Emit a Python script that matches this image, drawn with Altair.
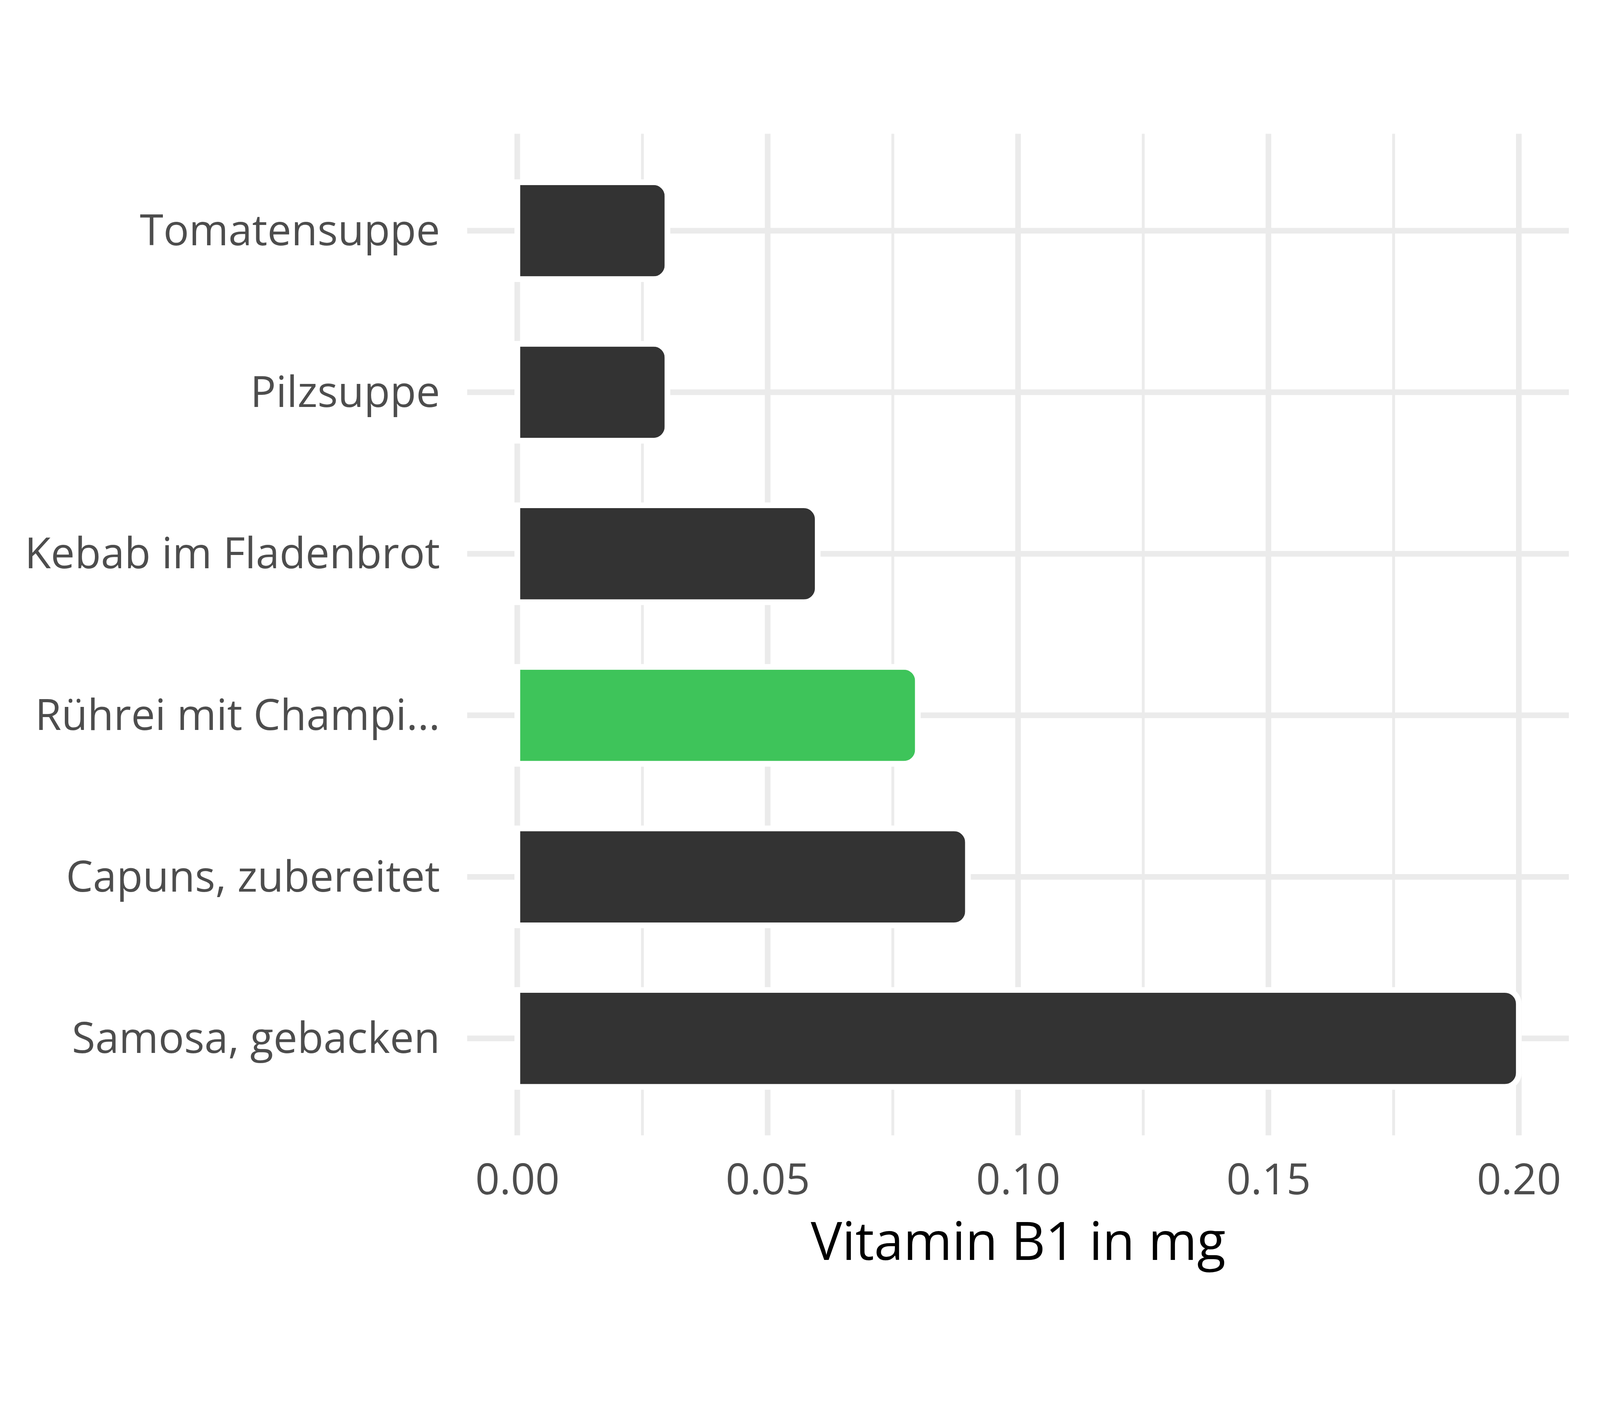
import altair as alt
import pandas as pd

foods = [
    "Tomatensuppe",
    "Pilzsuppe",
    "Kebab im Fladenbrot",
    "Rührei mit Champi...",
    "Capuns, zubereitet",
    "Samosa, gebacken",
]
values = [0.03, 0.03, 0.06, 0.08, 0.09, 0.20]
highlight = ["no", "no", "no", "yes", "no", "no"]
major_ticks = [0.0, 0.05, 0.10, 0.15, 0.20]
minor_ticks = [0.025, 0.075, 0.125, 0.175]

bars_df = pd.DataFrame({"food": foods, "value": values, "hl": highlight})
major_df = pd.DataFrame({"x": major_ticks})
minor_df = pd.DataFrame({"x": minor_ticks})
cats_df = pd.DataFrame({"food": foods})

FONT = "Open Sans"
GRID = "#EBEBEB"

xscale = alt.Scale(domain=[-0.01, 0.21], nice=False, zero=False)
yscale = alt.Scale(domain=foods, paddingInner=0, paddingOuter=0.1)

xaxis = alt.Axis(
    values=major_ticks, format=".2f", title="Vitamin B1 in mg",
    grid=False, domain=False, ticks=False,
    labelFont=FONT, labelFontSize=128, labelColor="#4D4D4D", labelPadding=75,
    labelLimit=2000,
    titleFont=FONT, titleFontSize=158, titleColor="#000000",
    titleFontWeight="normal", titlePadding=48,
)
yaxis = alt.Axis(
    title=None, grid=False, domain=False, ticks=False,
    labelFont=FONT, labelFontSize=128, labelColor="#4D4D4D",
    labelPadding=82, labelLimit=4000, labelOffset=6,
)

minor = alt.Chart(minor_df).mark_rule(color=GRID, strokeWidth=8.5).encode(
    x=alt.X("x:Q", scale=xscale, axis=xaxis)
)
major = alt.Chart(major_df).mark_rule(color=GRID, strokeWidth=17).encode(
    x=alt.X("x:Q", scale=xscale, axis=xaxis)
)
hrules = alt.Chart(cats_df).mark_rule(color=GRID, strokeWidth=17).encode(
    y=alt.Y("food:N", scale=yscale, axis=yaxis, sort=foods)
)
bars = alt.Chart(bars_df).mark_bar(
    stroke="white", strokeWidth=17, height={"band": 0.6}, cornerRadiusEnd=42
).encode(
    x=alt.X("value:Q", scale=xscale, axis=xaxis),
    y=alt.Y("food:N", scale=yscale, axis=yaxis, sort=foods),
    color=alt.Color("hl:N", scale=alt.Scale(domain=["no", "yes"], range=["#333333", "#3EC45A"]), legend=None),
)

chart = alt.layer(minor, major, hrules, bars).properties(
    width=3307,
    height=3007,
    background="white",
    autosize="none",
    padding={"left": 1393, "top": 83, "right": 84, "bottom": 494},
).configure_view(stroke=None)

chart.save("out.html", embed_options={"renderer": "svg", "actions": False})
